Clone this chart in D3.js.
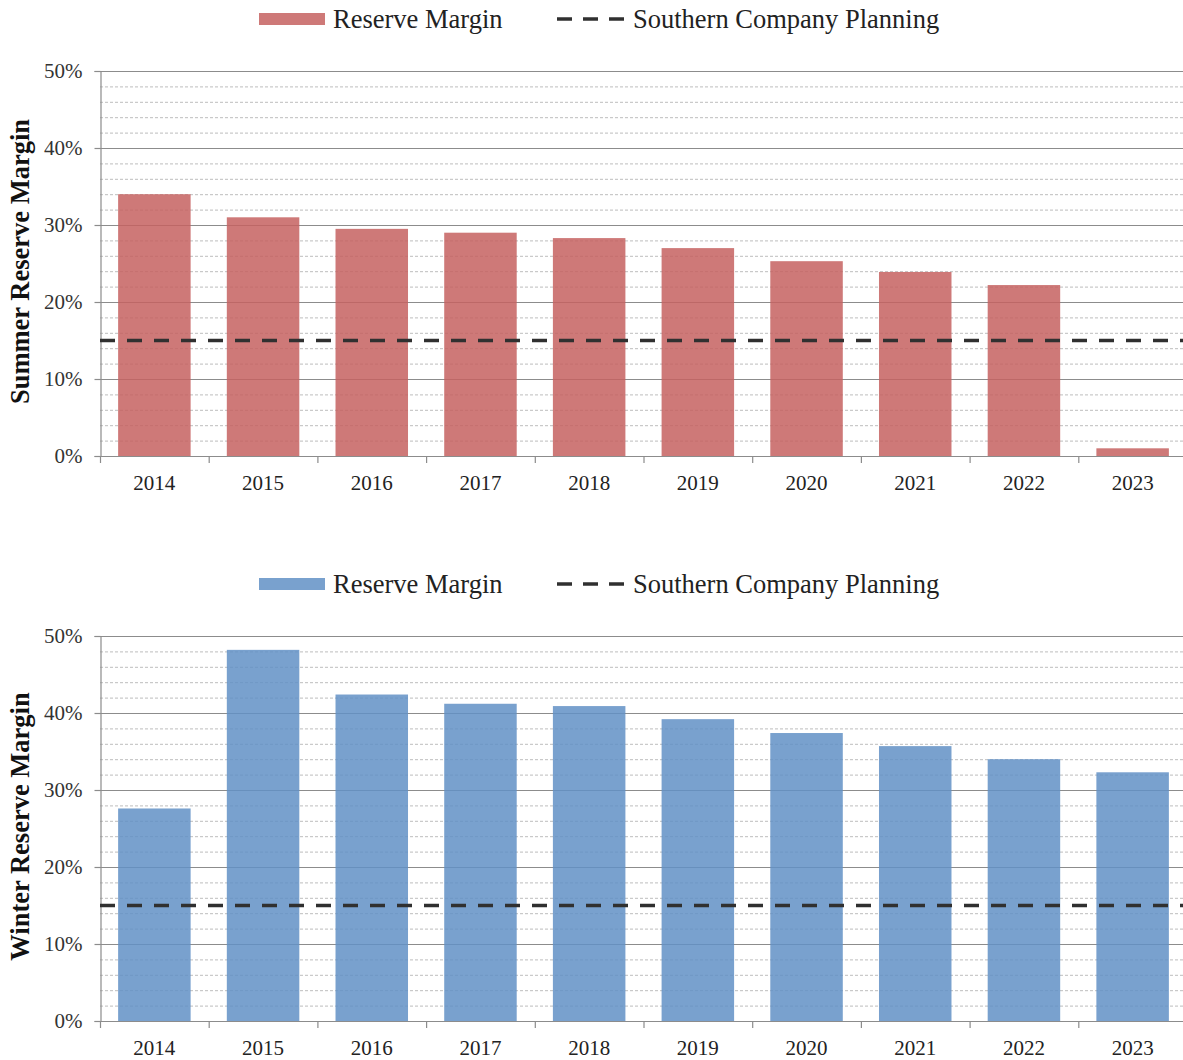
<!DOCTYPE html>
<html>
<head>
<meta charset="utf-8">
<script src="https://cdn.jsdelivr.net/npm/d3@7"></script>
<style>
  body { margin: 0; background: #fff; }
  svg { display: block; font-family: "Liberation Serif", "Times New Roman", serif; }
</style>
</head>
<body>
<svg id="chart" width="1183" height="1060"></svg>
<script>
// Years on the category axis
const years = ["2014", "2015", "2016", "2017", "2018", "2019", "2020", "2021", "2022", "2023"];
// Reserve margin (%) per year
const summerMargin = [34.0, 31.0, 29.5, 29.0, 28.3, 27.0, 25.3, 23.9, 22.2, 1.0];
const winterMargin = [27.6, 48.2, 42.4, 41.2, 40.9, 39.2, 37.4, 35.7, 34.0, 32.3];
// Planning reserve target (%)
const planningTarget = 15;
// Y-axis tick values (%)
const majorTicks = [0, 10, 20, 30, 40, 50];
const minorTicks = [2, 4, 6, 8, 12, 14, 16, 18, 22, 24, 26, 28, 32, 34, 36, 38, 42, 44, 46, 48];

const svg = d3.select("#chart");
const serif = "Liberation Serif";

function drawPanel(opts) {
  const { top, bottom, values, fill, title, legendY } = opts;
  const left = 100, right = 1187;
  const g = svg.append("g");

  const x = d3.scaleBand().domain(years).range([left, right])
    .paddingInner(0.333).paddingOuter(0.1667);
  const xEdge = d3.scaleLinear().domain([0, years.length]).range([left, right]);
  const y = d3.scaleLinear().domain([0, 50]).range([bottom, top]);

  // minor dashed gridlines
  g.append("g").selectAll("line").data(minorTicks).join("line")
    .attr("x1", left).attr("x2", right)
    .attr("y1", d => y(d) + 0.5).attr("y2", d => y(d) + 0.5)
    .attr("stroke", "#bdbdbd").attr("stroke-width", 1)
    .attr("stroke-dasharray", "3,2");

  // major gridlines
  g.append("g").selectAll("line").data(majorTicks.filter(d => d > 0)).join("line")
    .attr("x1", left).attr("x2", right)
    .attr("y1", d => y(d) + 0.5).attr("y2", d => y(d) + 0.5)
    .attr("stroke", "#8c8c8c").attr("stroke-width", 1.2);

  // bars
  g.append("g").selectAll("rect").data(values).join("rect")
    .attr("x", (d, i) => x(years[i]))
    .attr("width", x.bandwidth())
    .attr("y", d => y(d))
    .attr("height", d => bottom - y(d))
    .attr("fill", fill)
    .attr("fill-opacity", 0.85);

  // y axis
  const yAxis = d3.axisLeft(y).tickValues(majorTicks).tickSize(6).tickPadding(12)
    .tickFormat(d => d + "%");
  const ya = g.append("g").attr("transform", `translate(${left + 0.5},0)`).call(yAxis)
    .attr("font-family", serif);
  ya.select(".domain").attr("stroke", "#8c8c8c").attr("stroke-width", 1.2);
  ya.selectAll(".tick line").attr("stroke", "#8c8c8c").attr("stroke-width", 1.2);
  ya.selectAll(".tick text").attr("font-size", 21).attr("fill", "#333");

  // x axis baseline with ticks at category boundaries
  g.append("line").attr("x1", left).attr("x2", right)
    .attr("y1", bottom + 0.5).attr("y2", bottom + 0.5)
    .attr("stroke", "#8c8c8c").attr("stroke-width", 1.2);
  g.append("g").selectAll("line").data(d3.range(years.length)).join("line")
    .attr("x1", i => xEdge(i) + 0.5).attr("x2", i => xEdge(i) + 0.5)
    .attr("y1", bottom).attr("y2", bottom + 7)
    .attr("stroke", "#8c8c8c").attr("stroke-width", 1.2);
  g.append("g").selectAll("text").data(years).join("text")
    .attr("x", d => x(d) + x.bandwidth() / 2)
    .attr("y", bottom + 34)
    .attr("text-anchor", "middle")
    .attr("font-size", 21).attr("fill", "#222")
    .text(d => d);

  // planning target line
  g.append("line").attr("x1", left).attr("x2", right)
    .attr("y1", y(planningTarget)).attr("y2", y(planningTarget))
    .attr("stroke", "#303030").attr("stroke-width", 3.5)
    .attr("stroke-dasharray", "15,12");

  // y-axis title
  g.append("text")
    .attr("transform", `translate(29,${(top + bottom) / 2 - 2}) rotate(-90)`)
    .attr("text-anchor", "middle")
    .attr("font-size", 26.5).attr("font-weight", "bold").attr("fill", "#111")
    .text(title);

  // legend
  const lg = g.append("g");
  lg.append("rect").attr("x", 259).attr("y", legendY - 6).attr("width", 66).attr("height", 12)
    .attr("fill", fill).attr("fill-opacity", 0.85);
  lg.append("text").attr("x", 333).attr("y", legendY + 9)
    .attr("font-size", 26.5).attr("fill", "#222").text("Reserve Margin");
  lg.append("line").attr("x1", 557).attr("x2", 625)
    .attr("y1", legendY).attr("y2", legendY)
    .attr("stroke", "#303030").attr("stroke-width", 3.5)
    .attr("stroke-dasharray", "15,11");
  lg.append("text").attr("x", 633).attr("y", legendY + 9)
    .attr("font-size", 26.5).attr("fill", "#222").text("Southern Company Planning");
}

drawPanel({ top: 71, bottom: 456, values: summerMargin, fill: "#c66160",
  title: "Summer Reserve Margin", legendY: 19 });
drawPanel({ top: 636, bottom: 1021, values: winterMargin, fill: "#6290c5",
  title: "Winter Reserve Margin", legendY: 584 });
</script>
</body>
</html>
